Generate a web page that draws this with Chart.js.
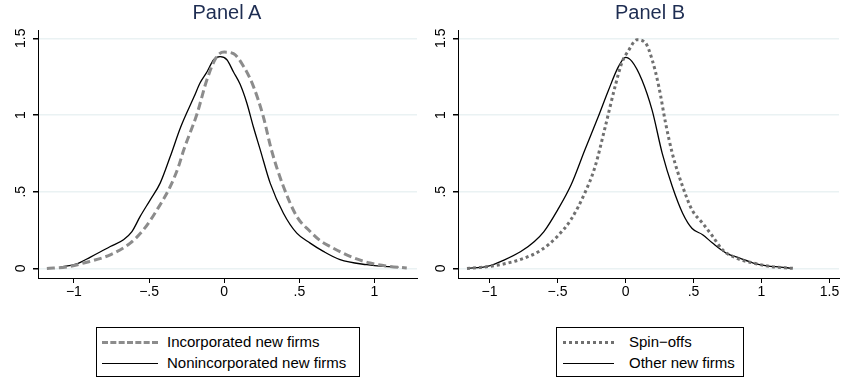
<!DOCTYPE html>
<html>
<head>
<meta charset="utf-8">
<script src="https://cdn.jsdelivr.net/npm/chart.js@4/dist/chart.umd.min.js"></script>
<style>
  body { margin: 0; background: #fff; font-family: "Liberation Sans", Arial, sans-serif; }
  #wrap { position: relative; width: 841px; height: 378px; overflow: hidden; }
  .cv { position: absolute; top: 0; }
  .title { position: absolute; top: 1px; font-size: 20px; color: #1e2d52; text-align: center; width: 200px; }
  .legend { position: absolute; border: 1px solid #000; box-sizing: border-box; font-size: 15px; color: #000; }
  .row { position: absolute; left: 0; height: 20px; line-height: 20px; white-space: nowrap; }
  .sample { position: absolute; top: 9px; }
  .lbl { position: absolute; top: 0; }
</style>
</head>
<body>
<div id="wrap">
  <canvas id="cA" class="cv" style="left:0px" width="420" height="300"></canvas>
  <canvas id="cB" class="cv" style="left:420px" width="421" height="300"></canvas>
  <div class="title" style="left:127px">Panel A</div>
  <div class="title" style="left:550px">Panel B</div>

  <div class="legend" style="left:96px;top:327px;width:264px;height:50px">
    <div class="row" style="top:4px"><div class="sample" style="left:5px;width:56px;border-top:3px dashed #8c8c8c"></div><span class="lbl" style="left:70px">Incorporated new firms</span></div>
    <div class="row" style="top:25px"><div class="sample" style="left:5px;width:56px;border-top:1px solid #000;top:10px"></div><span class="lbl" style="left:70px">Nonincorporated new firms</span></div>
  </div>
  <div class="legend" style="left:556px;top:327px;width:188px;height:50px">
    <div class="row" style="top:4px"><div class="sample" style="left:6px;width:51px;border-top:3px dotted #707070"></div><span class="lbl" style="left:72px">Spin−offs</span></div>
    <div class="row" style="top:25px"><div class="sample" style="left:6px;width:51px;border-top:1px solid #000;top:10px"></div><span class="lbl" style="left:72px">Other new firms</span></div>
  </div>
</div>
<script>
// Panel A: incorporated vs nonincorporated
const incX = [-1.18, -1.05, -0.935, -0.758, -0.625, -0.537, -0.447, -0.359, -0.304, -0.27, -0.18, -0.115, -0.05, 0.0, 0.062, 0.13, 0.195, 0.26, 0.315, 0.394, 0.483, 0.572, 0.64, 0.705, 0.838, 0.971, 1.104, 1.215];
const incY = [0.0, 0.009, 0.035, 0.089, 0.165, 0.252, 0.382, 0.534, 0.664, 0.77, 1.01, 1.23, 1.38, 1.41, 1.40, 1.315, 1.185, 0.99, 0.77, 0.534, 0.339, 0.241, 0.18, 0.143, 0.078, 0.035, 0.013, 0.003];
const nonX = [-1.09, -0.98, -0.89, -0.82, -0.758, -0.67, -0.614, -0.559, -0.492, -0.426, -0.359, -0.29, -0.20, -0.16, -0.115, -0.07, -0.027, 0.018, 0.062, 0.106, 0.15, 0.195, 0.24, 0.306, 0.394, 0.483, 0.572, 0.66, 0.771, 0.949, 1.06, 1.16];
const nonY = [0.009, 0.03, 0.074, 0.11, 0.143, 0.187, 0.24, 0.339, 0.447, 0.556, 0.729, 0.92, 1.12, 1.21, 1.28, 1.36, 1.38, 1.36, 1.28, 1.20, 1.08, 0.92, 0.773, 0.556, 0.36, 0.23, 0.165, 0.111, 0.057, 0.024, 0.013, 0.009];

// Panel B: spin-offs vs other new firms
const spinX = [-1.166, -1.04, -0.89, -0.745, -0.62, -0.50, -0.40, -0.30, -0.225, -0.15, -0.077, -0.027, 0.022, 0.084, 0.146, 0.196, 0.245, 0.295, 0.344, 0.42, 0.49, 0.567, 0.64, 0.715, 0.815, 0.94, 1.06, 1.235];
const spinY = [0.0, 0.009, 0.03, 0.067, 0.12, 0.21, 0.32, 0.49, 0.66, 0.92, 1.185, 1.34, 1.42, 1.49, 1.47, 1.36, 1.185, 0.946, 0.75, 0.534, 0.38, 0.295, 0.21, 0.12, 0.067, 0.035, 0.013, 0.0];
const othX = [-1.166, -1.017, -0.89, -0.77, -0.67, -0.60, -0.50, -0.40, -0.30, -0.20, -0.126, -0.052, 0.0, 0.047, 0.12, 0.196, 0.27, 0.344, 0.42, 0.49, 0.567, 0.64, 0.74, 0.84, 0.94, 1.04, 1.14, 1.21];
const othY = [0.0, 0.013, 0.056, 0.11, 0.176, 0.24, 0.38, 0.545, 0.77, 0.99, 1.16, 1.315, 1.376, 1.35, 1.23, 1.03, 0.75, 0.534, 0.36, 0.26, 0.22, 0.165, 0.10, 0.067, 0.035, 0.017, 0.009, 0.002];

const yTicks = [0, 0.5, 1, 1.5];
const xTicksA = [-1, -0.5, 0, 0.5, 1];
const xTicksB = [-1, -0.5, 0, 0.5, 1, 1.5];

function fmt(v) {
  if (v === 0) return '0';
  let s = String(Math.abs(v)).replace(/^0\./, '.');
  return (v < 0 ? '−' : '') + s;
}

function pts(xs, ys) {
  return xs.map((x, i) => ({ x: x, y: ys[i] }));
}

// rotated y tick labels (Stata style)
const yLabelPlugin = {
  id: 'yLabels',
  afterDraw(chart) {
    const ctx = chart.ctx;
    const sc = chart.scales.y;
    ctx.save();
    ctx.fillStyle = '#000';
    ctx.font = '14px "Liberation Sans", Arial, sans-serif';
    ctx.textAlign = 'center';
    ctx.textBaseline = 'middle';
    yTicks.forEach(v => {
      const py = sc.getPixelForValue(v);
      ctx.save();
      ctx.translate(sc.left + 21, py);
      ctx.rotate(-Math.PI / 2);
      ctx.fillText(fmt(v), 0, 0);
      ctx.restore();
    });
    ctx.restore();
  }
};

function makeChart(id, sets, xMin, xMax, xTicks, padRight) {
  new Chart(document.getElementById(id), {
    type: 'line',
    data: { datasets: sets },
    options: {
      responsive: false,
      animation: false,
      events: [],
      layout: { padding: { left: 0, right: padRight, top: 30, bottom: 0 } },
      plugins: { legend: { display: false }, tooltip: { enabled: false } },
      elements: { point: { radius: 0 }, line: { tension: 0.4, cubicInterpolationMode: 'monotone' } },
      scales: {
        x: {
          type: 'linear', min: xMin, max: xMax,
          afterBuildTicks: s => { s.ticks = xTicks.map(v => ({ value: v })); },
          afterFit: s => { s.height = 22; },
          grid: { drawOnChartArea: false, drawTicks: true, tickLength: 5, tickColor: '#000' },
          border: { color: '#000', width: 1 },
          ticks: { color: '#000', padding: 1, maxRotation: 0, autoSkip: false,
                   font: { size: 14, family: '"Liberation Sans", Arial, sans-serif' },
                   callback: v => fmt(v) }
        },
        y: {
          type: 'linear', min: -0.0625, max: 1.554,
          afterBuildTicks: s => { s.ticks = yTicks.map(v => ({ value: v })); },
          afterFit: s => { s.width = 38; },
          grid: { color: '#eaf2f3', lineWidth: 1.5, drawTicks: true, tickLength: 5, tickColor: '#000' },
          border: { color: '#000', width: 1 },
          ticks: { display: false }
        }
      }
    },
    plugins: [yLabelPlugin]
  });
}

makeChart('cA', [
  { data: pts(incX, incY), borderColor: '#8c8c8c', borderWidth: 3, borderDash: [8, 4] },
  { data: pts(nonX, nonY), borderColor: '#000', borderWidth: 1.3 }
], -1.239, 1.283, xTicksA, 3);

makeChart('cB', [
  { data: pts(spinX, spinY), borderColor: '#707070', borderWidth: 3, borderDash: [3, 3] },
  { data: pts(othX, othY), borderColor: '#000', borderWidth: 1.3 }
], -1.232, 1.57, xTicksB, 2);
</script>
</body>
</html>
